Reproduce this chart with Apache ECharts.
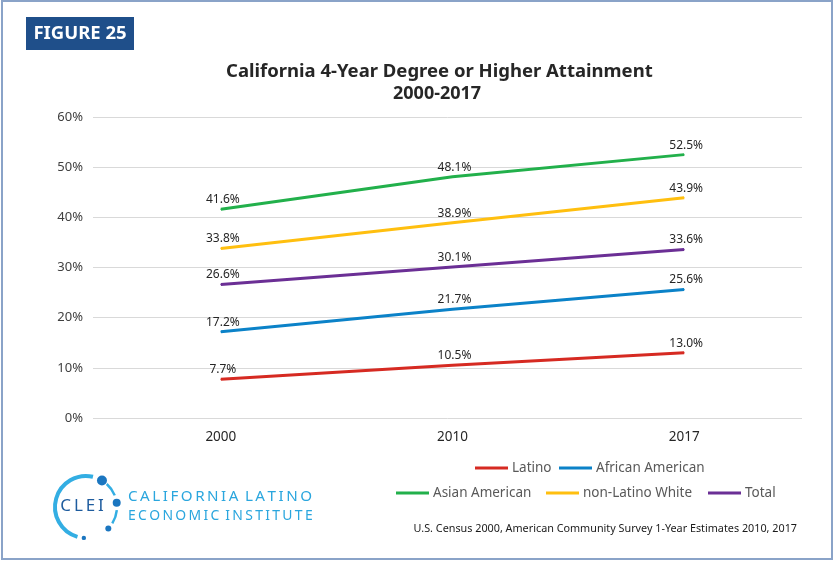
<!DOCTYPE html>
<html>
<head>
<meta charset="utf-8">
<script src="https://cdn.jsdelivr.net/npm/echarts@6/dist/echarts.min.js"></script>
<style>
  html, body { margin: 0; padding: 0; background: #fff; }
  #chart { width: 835px; height: 562px; }
</style>
</head>
<body>
<div id="chart"></div>
<script>
var years = ['2000', '2010', '2017'];
var latino = [7.7, 10.5, 13.0];
var african = [17.2, 21.7, 25.6];
var asian = [41.6, 48.1, 52.5];
var white = [33.8, 38.9, 43.9];
var total = [26.6, 30.1, 33.6];
var names = ['Latino', 'African American', 'Asian American', 'non-Latino White', 'Total'];
var colors = ['#d62a22', '#0b82c8', '#22b04b', '#ffbf0f', '#6b2f95'];
var yTicks = [0, 10, 20, 30, 40, 50, 60];

var chart = echarts.init(document.getElementById('chart'));
var font = '"Noto Sans", sans-serif';

// spaced caps for logo lines
function spaced(s) { return s.split('').join('\u2009'); }

function lineSeries(name, data, i) {
  return {
    name: name,
    type: 'line',
    data: data,
    xAxisIndex: 0,
    yAxisIndex: 0,
    symbol: 'circle',
    symbolSize: 1,
    lineStyle: { width: 3, color: colors[i] },
    itemStyle: { color: colors[i] },
    label: {
      show: true,
      position: 'top',
      distance: 3,
      offset: [2, 0],
      fontFamily: font,
      fontSize: 12,
      color: '#262626',
      formatter: function (p) { return p.value.toFixed(1) + '%'; }
    }
  };
}

// one legend per item so each sits where it does in the figure
var legendPos = [[475, 461], [559, 461], [396, 486], [546, 486], [708, 486]];
var legends = names.map(function (n, i) {
  return {
    data: [n],
    left: legendPos[i][0],
    top: legendPos[i][1],
    padding: 0,
    icon: 'rect',
    itemWidth: 33,
    itemHeight: 3,
    itemGap: 0,
    textStyle: { fontFamily: font, fontSize: 13.5, color: '#595959', padding: [0, 0, 0, -1] }
  };
});

var cx = 86, cy = 507, r = 31;
function deg(a) { return a * Math.PI / 180; }
function dot(a, rad) {
  return {
    type: 'circle',
    shape: { cx: cx + r * Math.cos(deg(a)), cy: cy + r * Math.sin(deg(a)), r: rad },
    style: { fill: '#1b76c0' }
  };
}
function arc(a0, a1, w) {
  return {
    type: 'arc',
    shape: { cx: cx, cy: cy, r: r, startAngle: deg(a0), endAngle: deg(a1), clockwise: true },
    style: { stroke: '#33aee3', lineWidth: w, fill: null }
  };
}

var option = {
  animation: false,
  backgroundColor: '#fff',
  title: [
    {
      text: 'California 4-Year Degree or Higher Attainment',
      left: 226,
      top: 62,
      padding: 0,
      textStyle: { fontFamily: font, fontSize: 18.5, fontWeight: 'bold', color: '#262626' }
    },
    {
      text: '2000-2017',
      left: 393,
      top: 85,
      padding: 0,
      textStyle: { fontFamily: font, fontSize: 18, fontWeight: 'bold', color: '#262626' }
    }
  ],
  legend: legends,
  grid: [
    { left: 105, right: 35, top: 117, bottom: 144 },
    { left: 93, right: 33, top: 117, bottom: 144 }
  ],
  xAxis: [
    {
      type: 'category',
      gridIndex: 0,
      data: years,
      axisLine: { show: false },
      axisTick: { show: false },
      axisLabel: { fontFamily: font, fontSize: 13.5, color: '#262626', margin: 12 }
    },
    { type: 'value', gridIndex: 1, show: false }
  ],
  yAxis: [
    { type: 'value', gridIndex: 0, min: 0, max: 60, interval: 10, show: false },
    {
      type: 'value',
      gridIndex: 1,
      min: yTicks[0],
      max: yTicks[yTicks.length - 1],
      interval: 10,
      axisLine: { show: false },
      axisTick: { show: false },
      splitLine: { lineStyle: { color: '#d9d9d9', width: 1 } },
      axisLabel: {
        fontFamily: font,
        fontSize: 13,
        color: '#404040',
        margin: 10,
        formatter: function (v) { return v + '%'; }
      }
    }
  ],
  series: [
    lineSeries(names[0], latino, 0),
    lineSeries(names[1], african, 1),
    lineSeries(names[2], asian, 2),
    lineSeries(names[3], white, 3),
    lineSeries(names[4], total, 4)
  ],
  graphic: [
    {
      type: 'rect',
      shape: { x: 2, y: 1, width: 830, height: 558 },
      style: { fill: null, stroke: '#8aa3c8', lineWidth: 2 }
    },
    {
      type: 'rect',
      shape: { x: 26, y: 17, width: 108, height: 33 },
      style: { fill: '#1f4f8a' }
    },
    {
      type: 'text',
      x: 80,
      y: 34,
      style: {
        text: 'FIGURE 25',
        fontFamily: font,
        fontSize: 18.5,
        fontWeight: 'bold',
        fill: '#fff',
        align: 'center',
        verticalAlign: 'middle'
      }
    },
    arc(106, 283, 4),
    arc(-48, -22, 2.5),
    arc(6, 32, 2.5),
    dot(-59, 5),
    dot(-8, 4),
    dot(44, 3),
    dot(94, 2.2),
    {
      type: 'text',
      x: 82,
      y: 506,
      style: {
        text: spaced('CLEI'),
        fontFamily: font,
        fontSize: 17,
        fill: '#1e5c9e',
        align: 'center',
        verticalAlign: 'middle'
      }
    },
    {
      type: 'text',
      x: 128,
      y: 497,
      scaleX: 1.06,
      style: {
        text: spaced('CALIFORNIA') + '\u2009 ' + spaced('LATINO'),
        fontFamily: font,
        fontSize: 14.3,
        fill: '#2aa6de',
        verticalAlign: 'middle'
      }
    },
    {
      type: 'text',
      x: 128,
      y: 516,
      scaleX: 0.975,
      style: {
        text: spaced('ECONOMIC') + '\u2009 ' + spaced('INSTITUTE'),
        fontFamily: font,
        fontSize: 14.3,
        fill: '#2aa6de',
        verticalAlign: 'middle'
      }
    },
    {
      type: 'text',
      x: 797,
      y: 529,
      style: {
        text: 'U.S. Census 2000, American Community Survey 1-Year Estimates 2010, 2017',
        fontFamily: font,
        fontSize: 10.8,
        fill: '#1a1a1a',
        align: 'right',
        verticalAlign: 'middle'
      }
    }
  ]
};

chart.setOption(option);
</script>
</body>
</html>
